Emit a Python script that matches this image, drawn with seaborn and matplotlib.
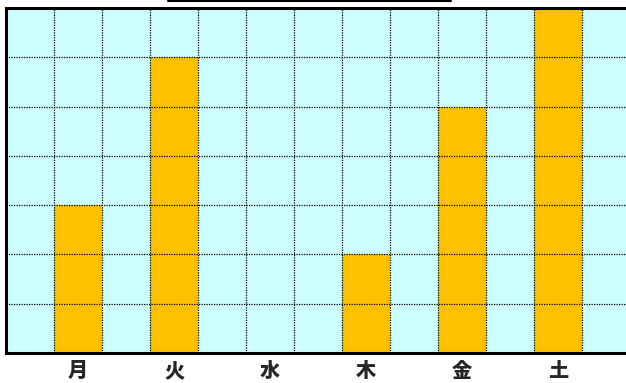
import matplotlib
matplotlib.use("Agg")
import matplotlib.pyplot as plt
import seaborn as sns
import pandas as pd
from matplotlib.lines import Line2D

days = ["月", "火", "水", "木", "金", "土"]
values = [3, 6, 0, 2, 5, 7]

sns.set_style("white")
plt.rcParams['font.family'] = ['Noto Sans CJK JP', 'DejaVu Sans']

df = pd.DataFrame({"day": days, "value": values})

W, H = 626, 383
fig = plt.figure(figsize=(W / 100, H / 100), dpi=100)
fig.patch.set_facecolor("white")
ax = fig.add_axes([6 / W, (H - 353) / H, 624 / W, 345 / H])
ax.set_facecolor("#CCFFFF")

sns.barplot(data=df, x="day", y="value", color="#FFC000", saturation=1,
            width=0.5, edgecolor="none", linewidth=0, ax=ax)

ax.set_xlim(-0.75, 5.75)
ax.set_ylim(0, 7)
ax.set_xticks([-0.25 + 0.5 * k for k in range(13)], minor=True)
ax.set_yticks(range(0, 8))
ax.set_xticks(range(len(days)))
ax.set_xticklabels(days, fontsize=14.5, fontweight="heavy")
ax.set_yticklabels([])
ax.grid(True, which="minor", axis="x", color="black", linestyle=(0, (1, 1)), linewidth=0.9)
ax.grid(True, which="major", axis="y", color="black", linestyle=(0, (1, 1)), linewidth=0.9)
ax.set_axisbelow(False)
ax.tick_params(axis="both", which="both", length=0, pad=6)
ax.set_xlabel("")
ax.set_ylabel("")

for side in ["left", "bottom", "top"]:
    ax.spines[side].set_visible(True)
    ax.spines[side].set_color("black")
    ax.spines[side].set_linewidth(2.2)
ax.spines["right"].set_visible(False)

fig.add_artist(Line2D([168 / W, 451 / W], [1 - 0.8 / H, 1 - 0.8 / H],
                      color="black", linewidth=1.5, transform=fig.transFigure))

fig.savefig("out.png", dpi=100)
